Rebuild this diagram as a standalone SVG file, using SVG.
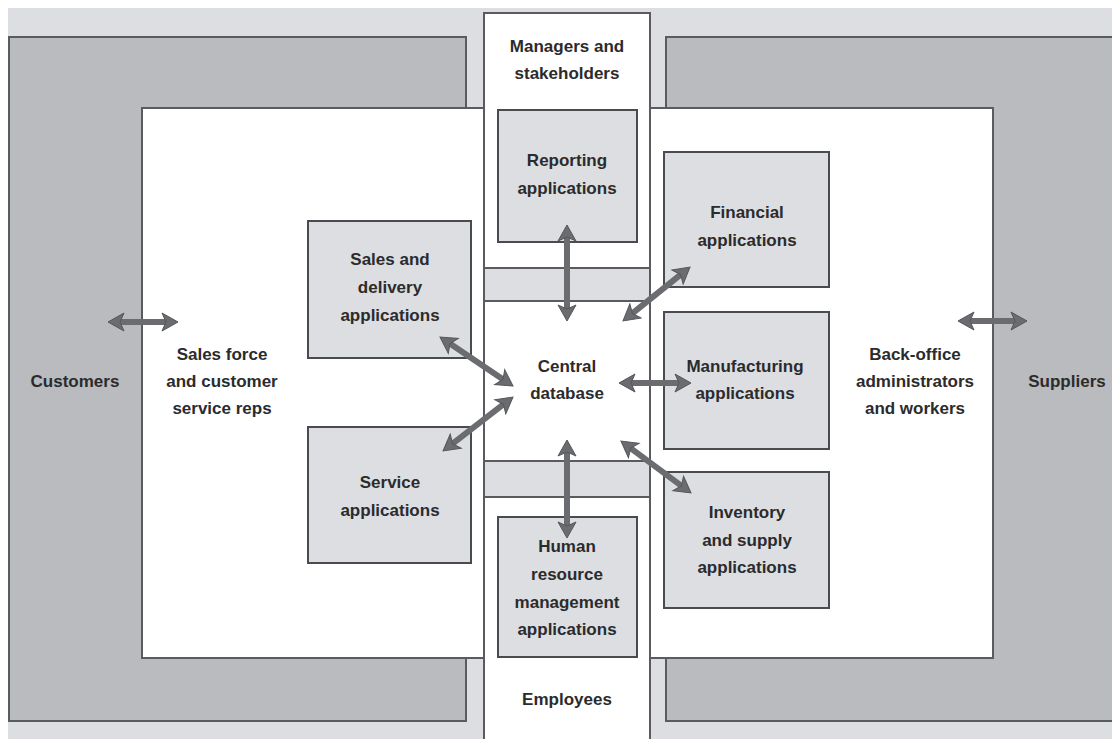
<svg xmlns="http://www.w3.org/2000/svg" width="1112" height="739" viewBox="0 0 1112 739">
<style>
.bg{fill:#dcdee1}
.dark{fill:#b9bbbe;stroke:#5a5b5e;stroke-width:2}
.panel{fill:#ffffff;stroke:#5a5b5e;stroke-width:2}
.band{fill:#dcdee1;stroke:#5a5b5e;stroke-width:2}
.app{fill:#dcdee1;stroke:#4a4b4e;stroke-width:2}
text{font-family:"Liberation Sans",Arial,sans-serif;font-weight:bold;font-size:17px;fill:#2b2b2d;text-anchor:middle}
.arr{stroke:#6b6c70;stroke-width:6;fill:none;marker-start:url(#ah);marker-end:url(#ah)}
</style>
<defs>
<marker id="ah" markerUnits="userSpaceOnUse" viewBox="-4 -10 20 20" markerWidth="20" markerHeight="20" refX="8" refY="0" orient="auto-start-reverse">
<path d="M-2,-9 L14,0 L-2,9 L2,0 z" fill="#6b6c70" stroke="#55565a" stroke-width="1"/>
</marker>
</defs>
<rect x="0" y="0" width="1112" height="739" fill="#ffffff"/>
<rect class="bg" x="8" y="8" width="1104" height="731"/>
<g id="customers">
<rect class="dark" x="9" y="37" width="457" height="684"/>
<text x="75" y="387">Customers</text>
</g>
<g id="suppliers">
<rect class="dark" x="666" y="37" width="460" height="684"/>
<text x="1067" y="387">Suppliers</text>
</g>
<g id="sales-force">
<rect class="panel" x="142" y="108" width="343" height="550"/>
<text x="222" y="360">Sales force</text>
<text x="222" y="387">and customer</text>
<text x="222" y="414">service reps</text>
</g>
<g id="back-office">
<rect class="panel" x="650" y="108" width="343" height="550"/>
<text x="915" y="360">Back-office</text>
<text x="915" y="387">administrators</text>
<text x="915" y="414">and workers</text>
</g>
<g id="central-column">
<rect class="panel" x="484" y="13" width="166" height="740"/>
<rect class="band" x="484" y="268" width="166" height="33"/>
<rect class="band" x="484" y="461" width="166" height="36"/>
<text x="567" y="52">Managers and</text>
<text x="567" y="79">stakeholders</text>
<text x="567" y="705">Employees</text>
</g>
<g id="central-database">
<text x="567" y="372">Central</text>
<text x="567" y="399">database</text>
</g>
<g id="reporting">
<rect class="app" x="498" y="110" width="139" height="132"/>
<text x="567" y="166">Reporting</text>
<text x="567" y="194">applications</text>
</g>
<g id="hr">
<rect class="app" x="498" y="517" width="139" height="140"/>
<text x="567" y="552">Human</text>
<text x="567" y="580">resource</text>
<text x="567" y="608">management</text>
<text x="567" y="635">applications</text>
</g>
<g id="sales-delivery">
<rect class="app" x="308" y="221" width="163" height="137"/>
<text x="390" y="265">Sales and</text>
<text x="390" y="293">delivery</text>
<text x="390" y="321">applications</text>
</g>
<g id="service">
<rect class="app" x="308" y="427" width="163" height="136"/>
<text x="390" y="488">Service</text>
<text x="390" y="516">applications</text>
</g>
<g id="financial">
<rect class="app" x="664" y="152" width="165" height="135"/>
<text x="747" y="218">Financial</text>
<text x="747" y="246">applications</text>
</g>
<g id="manufacturing">
<rect class="app" x="664" y="312" width="165" height="137"/>
<text x="745" y="372">Manufacturing</text>
<text x="745" y="399">applications</text>
</g>
<g id="inventory">
<rect class="app" x="664" y="472" width="165" height="136"/>
<text x="747" y="518">Inventory</text>
<text x="747" y="546">and supply</text>
<text x="747" y="573">applications</text>
</g>
<g id="connectors">
<line class="arr" x1="114" y1="322" x2="172" y2="322"/>
<line class="arr" x1="964" y1="321" x2="1021" y2="321"/>
<line class="arr" x1="567" y1="231" x2="567" y2="315"/>
<line class="arr" x1="685.3" y1="270.8" x2="627.7" y2="317.2"/>
<line class="arr" x1="445" y1="340.3" x2="508" y2="382.7"/>
<line class="arr" x1="508.2" y1="400.7" x2="447.8" y2="447.3"/>
<line class="arr" x1="625" y1="383" x2="685" y2="383"/>
<line class="arr" x1="567" y1="446" x2="567" y2="532"/>
<line class="arr" x1="625.8" y1="444.6" x2="686.2" y2="489.4"/>
</g>
</svg>
